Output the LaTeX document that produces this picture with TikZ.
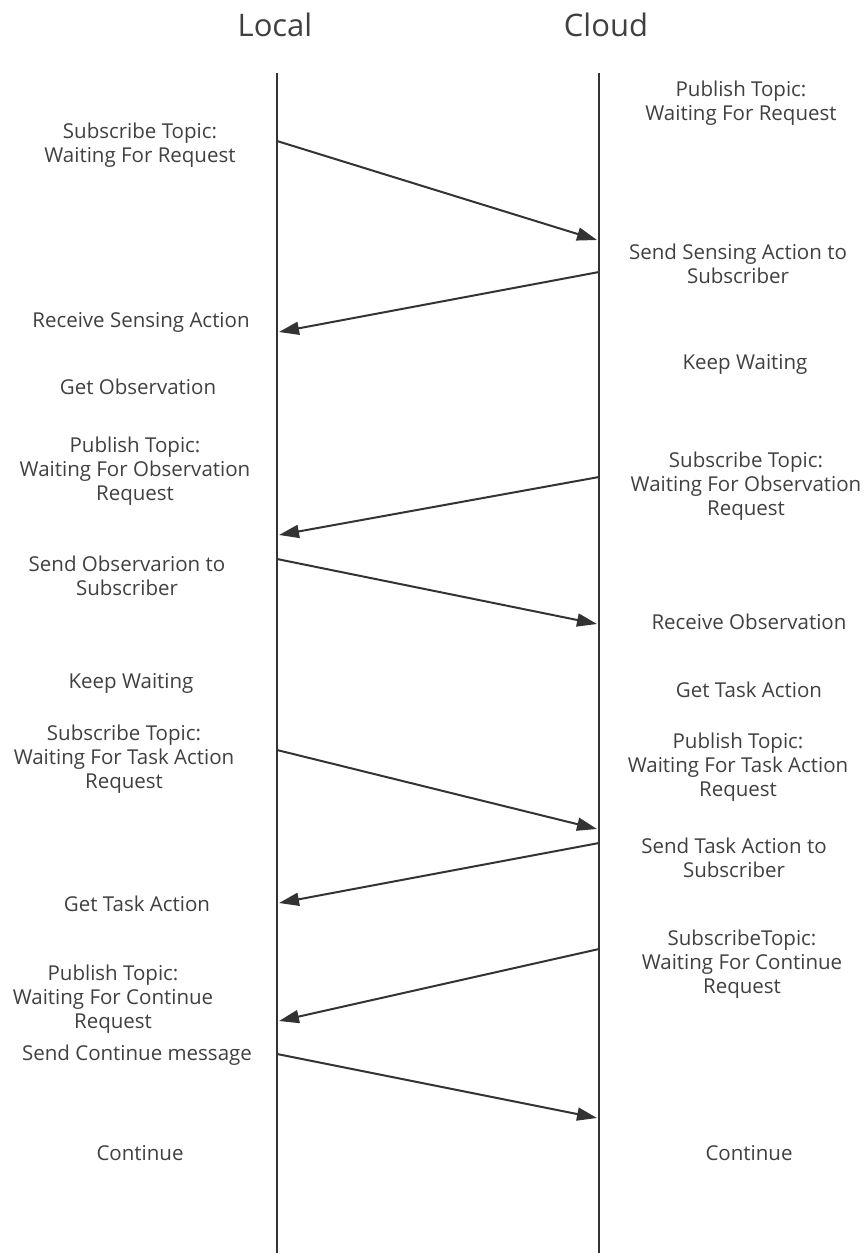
\documentclass[tikz,border=0pt]{standalone}
\usepackage{fontspec}
\setmainfont{Open Sans}
\usetikzlibrary{arrows.meta}
\definecolor{ink}{HTML}{333333}
\definecolor{txt}{HTML}{404040}
\begin{document}
\begin{tikzpicture}[x=1pt,y=-1pt,
  lbl/.style={text=txt,align=center,font=\fontsize{20.5}{24}\selectfont,inner sep=0pt},
  ttl/.style={text=txt,font=\fontsize{31}{36}\selectfont,inner sep=0pt},
  life/.style={draw=ink,line width=2.5pt},
  msg/.style={draw=ink,line width=2pt,-{Triangle[length=20pt,width=13pt]}}]
\useasboundingbox (0,0) rectangle (867,1253);
% titles
\node[ttl] (tl) at (275,25) {Local};
\node[ttl] (tc) at (606,25) {Cloud};
% lifelines
\coordinate (ltop) at (277,73); \coordinate (lbot) at (277,1253);
\coordinate (ctop) at (599,73); \coordinate (cbot) at (599,1253);
\draw[life] (ltop) -- (lbot);
\draw[life] (ctop) -- (cbot);
% message endpoints
\coordinate (a1) at (277,141);  \coordinate (b1) at (597,240);
\coordinate (a2) at (599,272);  \coordinate (b2) at (279,332);
\coordinate (a3) at (599,477);  \coordinate (b3) at (279,535);
\coordinate (a4) at (277,559);  \coordinate (b4) at (597,624);
\coordinate (a5) at (277,750);  \coordinate (b5) at (597,829);
\coordinate (a6) at (599,843);  \coordinate (b6) at (279,903);
\coordinate (a7) at (599,949);  \coordinate (b7) at (279,1021);
\coordinate (a8) at (277,1054); \coordinate (b8) at (597,1118);
\foreach \i in {1,...,8} \draw[msg] (a\i) -- (b\i);
% local side
\node[lbl] (l1) at (140,145) {Subscribe Topic:\\Waiting For Request};
\node[lbl] (l2) at (141,322) {Receive Sensing Action};
\node[lbl] (l3) at (138,387) {Get Observation};
\node[lbl] (l4) at (135,471) {Publish Topic:\\Waiting For Observation\\Request};
\node[lbl] (l5) at (127,576) {Send Observarion to\\Subscriber};
\node[lbl] (l6) at (131,683) {Keep Waiting};
\node[lbl] (l7) at (124,759) {Subscribe Topic:\\Waiting For Task Action\\Request};
\node[lbl] (l8) at (137,904) {Get Task Action};
\node[lbl] (l9) at (113,999) {Publish Topic:\\Waiting For Continue\\Request};
\node[lbl] (l10) at (137,1055) {Send Continue message};
\node[lbl] (l11) at (140,1153) {Continue};
% cloud side
\node[lbl] (c1) at (741,103) {Publish Topic:\\Waiting For Request};
\node[lbl] (c2) at (738,264) {Send Sensing Action to\\Subscriber};
\node[lbl] (c3) at (745,364) {Keep Waiting};
\node[lbl] (c4) at (746,486) {Subscribe Topic:\\Waiting For Observation\\Request};
\node[lbl] (c5) at (749,622) {Receive Observation};
\node[lbl] (c6) at (749,690) {Get Task Action};
\node[lbl] (c7) at (738,767) {Publish Topic:\\Waiting For Task Action\\Request};
\node[lbl] (c8) at (734,858) {Send Task Action to\\Subscriber};
\node[lbl] (c9) at (742,964) {SubscribeTopic:\\Waiting For Continue\\Request};
\node[lbl] (c10) at (749,1153) {Continue};
\end{tikzpicture}
\end{document}
